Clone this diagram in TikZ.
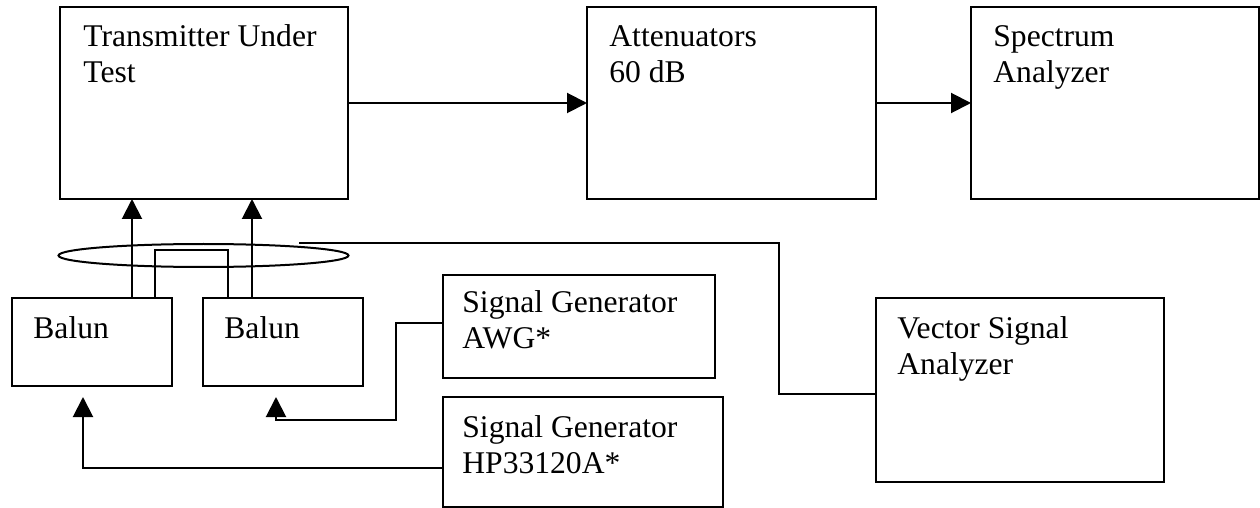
\documentclass[tikz,border=0pt]{standalone}
\usepackage{fontspec}
\setmainfont{Liberation Serif}
\usetikzlibrary{arrows.meta,fit,shapes.geometric}

\begin{document}
\begin{tikzpicture}[x=0.5pt,y=-0.5pt,
  box/.style={draw, line width=1pt, inner sep=0pt, outer sep=0pt},
  % base anchor of a two-line caption sits on its last line
  lbl/.style={anchor=base west, align=left, inner sep=0pt,
    font=\fontsize{15.8pt}{18pt}\selectfont},
  wire/.style={line width=1pt},
  arr/.style={wire, -{Triangle[length=10pt,width=10pt]}}]
\useasboundingbox (0,0) rectangle (1260,508);

% instrument boxes
\node[box, fit={(60,7) (348,199)}]    (tut)  {};
\node[box, fit={(587,7) (876,199)}]   (att)  {};
\node[box, fit={(971,7) (1259,199)}]  (spec) {};
\node[box, fit={(12,298) (172,386)}]  (bal1) {};
\node[box, fit={(203,298) (363,386)}] (bal2) {};
\node[box, fit={(443,275) (715,378)}] (awg)  {};
\node[box, fit={(443,397) (723,507)}] (hp)   {};
\node[box, fit={(876,298) (1164,482)}] (vsa) {};

% box captions
\node[lbl] (tut-t)  at (83,83)   {Transmitter Under\\Test};
\node[lbl] (att-t)  at (609,83)  {Attenuators\\60 dB};
\node[lbl] (spec-t) at (993,83)  {Spectrum\\Analyzer};
\node[lbl] (bal1-t) at (33,338)  {Balun};
\node[lbl] (bal2-t) at (224,338) {Balun};
\node[lbl] (awg-t)  at (462,349) {Signal Generator\\AWG*};
\node[lbl] (hp-t)   at (462,473) {Signal Generator\\HP33120A*};
\node[lbl] (vsa-t)  at (897,374) {Vector Signal\\Analyzer};

% cable bundle ring around the balun leads
\node[draw, line width=1pt, ellipse, inner sep=0pt,
  minimum width=145pt, minimum height=11.5pt] (ring) at (203.5,255.5) {};
\coordinate (tap) at (299,243);

% RF chain
\draw[arr] (tut.east) -- (att.west);
\draw[arr] (att.east) -- (spec.west);

% balun outputs into the transmitter
\draw[arr] (bal1.north -| 132,0) -- (tut.south -| 132,0);
\draw[arr] (bal2.north -| 252,0) -- (tut.south -| 252,0);
\draw[wire] (bal1.north -| 155,0) |- (228,250) -- (bal2.north -| 228,0);

% monitoring tap to the vector signal analyzer
\draw[wire] (tap) -| (779,394) -- (vsa.west |- 0,394);

% generators into the baluns
\draw[arr] (awg.west |- 0,323) -| (396,420) -| (276,397);
\draw[arr] (hp.west |- 0,468) -| (83,397);
\end{tikzpicture}
\end{document}
